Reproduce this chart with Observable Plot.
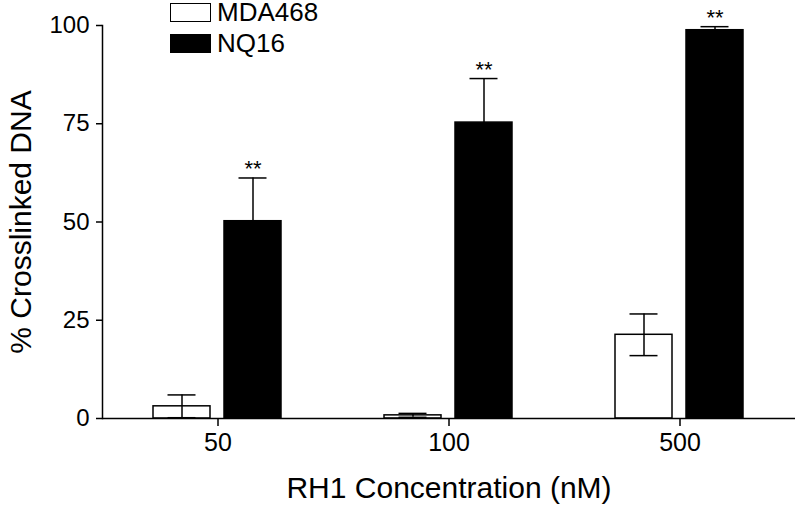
<!DOCTYPE html>
<html>
<head>
<meta charset="utf-8">
<script src="https://cdn.jsdelivr.net/npm/d3@7"></script>
<script src="https://cdn.jsdelivr.net/npm/@observablehq/plot@0.6"></script>
<style>
  html, body { margin: 0; padding: 0; background: white; }
  #wrap { position: relative; width: 800px; height: 512px; font-family: "Liberation Sans", Arial, sans-serif; }
  #legend { position: absolute; left: 170px; top: 3px; font-size: 26px; color: black; z-index: 2; }
  #legend .item { display: flex; align-items: flex-start; height: 19px; line-height: 19px; margin-bottom: 12px; }
  #legend .sw { width: 41px; height: 19px; box-sizing: border-box; border: 1.5px solid black; margin-right: 6px; }
  [aria-label="y-axis label"], [aria-label="fx-axis label"] { font-size: 30px; }
</style>
</head>
<body>
<div id="wrap"><div id="legend"></div></div>
<script>
// ---- data ----
const concentrations = ["50", "100", "500"];
const series = ["MDA468", "NQ16"];
const mda468 = [3.1, 0.8, 21.3];
const mda468Err = [2.9, 0.5, 5.3];
const nq16 = [50.2, 75.3, 98.8];
const nq16Err = [11.0, 11.2, 0.9];
const significance = ["**", "**", "**"];
const yTicks = [0, 25, 50, 75, 100];
const seriesColors = ["white", "black"];

// ---- table built from arrays ----
const rows = [];
concentrations.forEach((c, i) => {
  rows.push({conc: c, series: series[0], value: mda468[i], err: mda468Err[i], sig: ""});
  rows.push({conc: c, series: series[1], value: nq16[i], err: nq16Err[i], sig: significance[i]});
});
const sigRows = rows.filter(d => d.sig);

const chart = Plot.plot({
  width: 800,
  height: 512,
  marginLeft: 101,
  marginRight: 5,
  marginTop: 25,
  marginBottom: 94,
  style: {fontFamily: "Liberation Sans, Arial, sans-serif", fontSize: "24px", color: "black", background: "white", overflow: "visible"},
  fx: {domain: concentrations, padding: 0},
  x: {domain: series, paddingInner: 0.194, paddingOuter: 0.703, axis: null},
  y: {domain: [0, 100]},
  color: {domain: series, range: seriesColors},
  marks: [
    Plot.barY(rows, {fx: "conc", x: "series", y: "value", fill: "series", stroke: "black", strokeWidth: 1.5}),
    Plot.ruleX(rows, {fx: "conc", x: "series", y1: d => d.value - d.err, y2: d => d.value + d.err, stroke: "black", strokeWidth: 1.5}),
    Plot.tickY(rows, {fx: "conc", x: "series", y: d => d.value + d.err, insetLeft: 14.5, insetRight: 14.5, stroke: "black", strokeWidth: 1.5}),
    Plot.tickY(rows, {fx: "conc", x: "series", y: d => d.value - d.err, insetLeft: 14.5, insetRight: 14.5, stroke: "black", strokeWidth: 1.5}),
    Plot.text(sigRows, {fx: "conc", x: "series", y: d => d.value + d.err, text: "sig", lineAnchor: "bottom", dy: -2, fontSize: 22}),
    Plot.ruleY([0], {stroke: "black", strokeWidth: 1.5}),
    Plot.frame({anchor: "left", facetAnchor: "left", strokeWidth: 1.5}),
    Plot.axisY({ticks: yTicks, tickSize: 6, tickPadding: 7, fontSize: 24, strokeWidth: 1.5, label: "% Crosslinked DNA", labelArrow: "none", labelAnchor: "center", labelOffset: 93}),
    Plot.axisFx({anchor: "bottom", tickSize: 8, tickPadding: 7, fontSize: 25, strokeWidth: 1.5, label: "RH1 Concentration (nM)", labelArrow: "none", labelAnchor: "center", labelOffset: 79})
  ]
});
document.getElementById("wrap").appendChild(chart);

// legend
const legend = d3.select("#legend");
series.forEach((s, i) => {
  const item = legend.append("div").attr("class", "item");
  item.append("div").attr("class", "sw").style("background", seriesColors[i]);
  item.append("span").text(s);
});
</script>
</body>
</html>
